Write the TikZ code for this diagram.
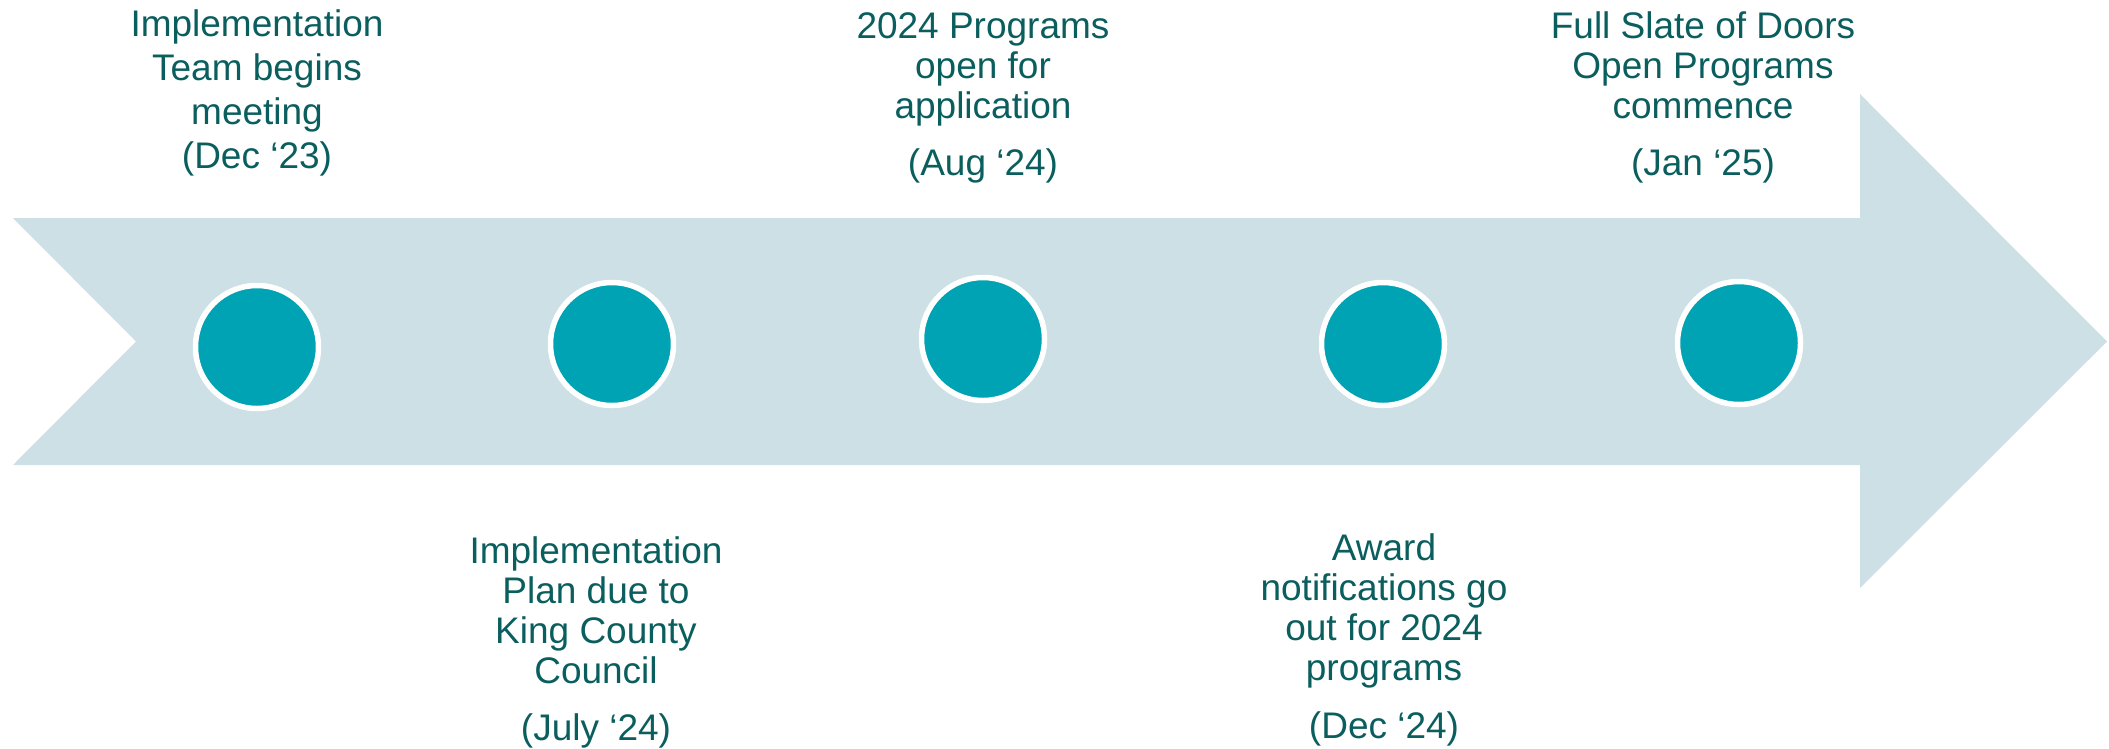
\documentclass[tikz,border=0pt]{standalone}
\usepackage{fontspec}
\setmainfont{Liberation Sans}
\definecolor{arrowfill}{HTML}{CCE0E5}
\definecolor{dot}{HTML}{00A3B3}
\definecolor{txt}{HTML}{0B5E5E}
\begin{document}
\begin{tikzpicture}[x=1pt,y=-1pt,
  lbl/.style={text=txt, font=\fontsize{37}{40}\selectfont, align=center, inner sep=0pt, anchor=base},
  milestone/.style={circle, fill=dot, draw=white, line width=5.5pt, minimum size=123pt, inner sep=0pt}]
\useasboundingbox (0,0) rectangle (2109,748);
\fill[arrowfill] (13,218) -- (1860,218) -- (1860,94) -- (2107,341.5) -- (1860,588) -- (1860,465) -- (13,465) -- (136,341.5) -- cycle;
\node[milestone] (m1) at (257,347) {};
\node[milestone] (m2) at (612,344) {};
\node[milestone] (m3) at (983,339) {};
\node[milestone] (m4) at (1383,344) {};
\node[milestone] (m5) at (1739,343) {};
\node[lbl, font=\fontsize{37}{44}\selectfont] (l1) at (257,168) {Implementation\\Team begins\\meeting\\(Dec ‘23)};
\node[lbl] (l2) at (596,740) {Implementation\\Plan due to\\King County\\Council\\[17pt](July ‘24)};
\node[lbl] (l3) at (983,175) {2024 Programs\\open for\\application\\[17pt](Aug ‘24)};
\node[lbl] (l4) at (1384,738) {Award\\notifications go\\out for 2024\\programs\\[18pt](Dec ‘24)};
\node[lbl] (l5) at (1703,175) {Full Slate of Doors\\Open Programs\\commence\\[17pt](Jan ‘25)};
\end{tikzpicture}
\end{document}
